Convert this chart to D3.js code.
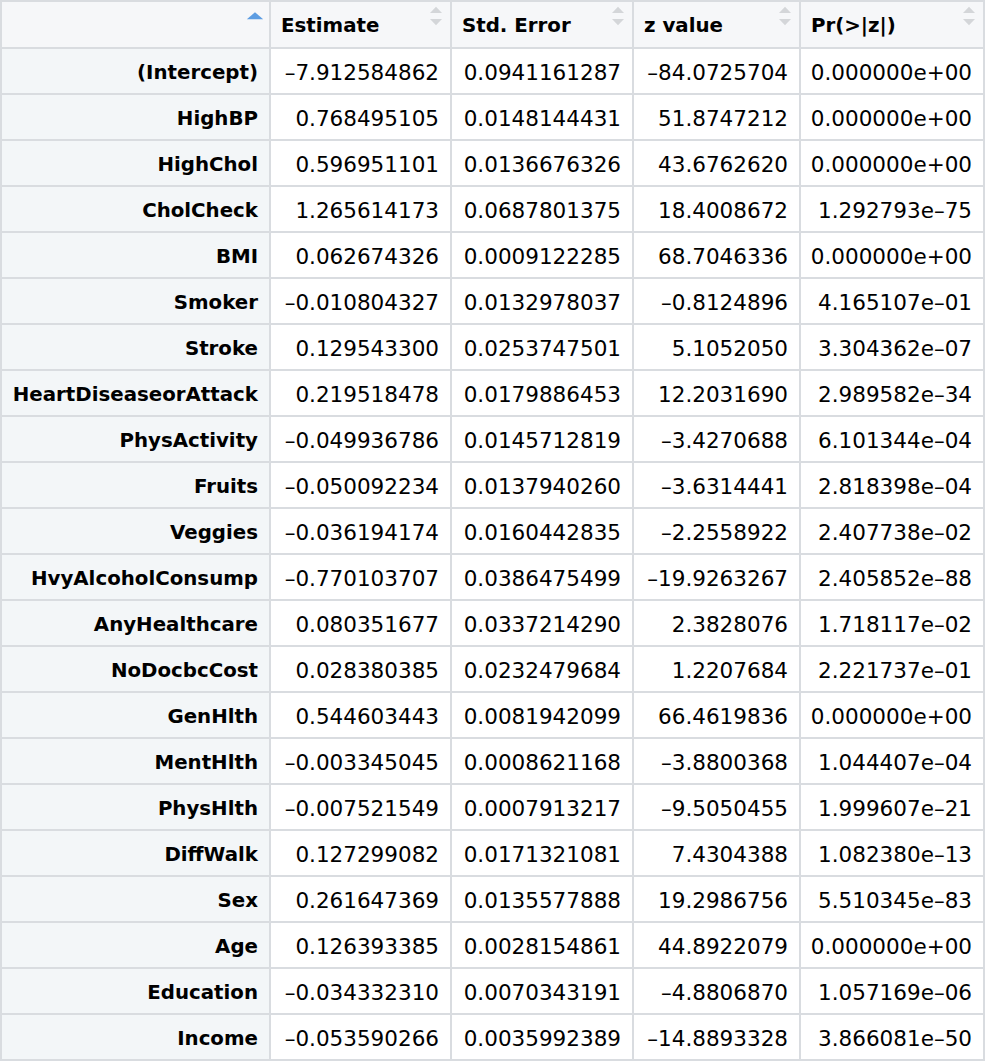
<!DOCTYPE html>
<html>
<head>
	<meta charset="utf-8">
	<title>Logistic regression coefficients</title>
	<style>
	html, body {
		margin: 0;
		background: #fff;
	}
	text {
		font-family: "DejaVu Sans", Verdana, sans-serif;
		fill: #000;
	}
	text.val {
		font-size: 21.5px;
		text-anchor: end;
	}
	text.term {
		font-size: 19.8px;
		font-weight: bold;
		text-anchor: end;
	}
	text.head {
		font-size: 19.8px;
		font-weight: bold;
	}
	.grid {
		stroke: #d9dce0;
		stroke-width: 2;
		shape-rendering: crispEdges;
	}
	</style>
	<script src="https://d3js.org/d3.v7.min.js"></script>
</head>
<body>
<div id="chart"></div>
<script>
// the rows of the table, in the order shown
var terms = ['(Intercept)', 'HighBP', 'HighChol', 'CholCheck', 'BMI', 'Smoker', 'Stroke',
	'HeartDiseaseorAttack', 'PhysActivity', 'Fruits', 'Veggies', 'HvyAlcoholConsump',
	'AnyHealthcare', 'NoDocbcCost', 'GenHlth', 'MentHlth', 'PhysHlth', 'DiffWalk', 'Sex',
	'Age', 'Education', 'Income'];

var estimate = [-7.912584862, 0.768495105, 0.596951101, 1.265614173, 0.062674326, -0.010804327,
	0.129543300, 0.219518478, -0.049936786, -0.050092234, -0.036194174, -0.770103707,
	0.080351677, 0.028380385, 0.544603443, -0.003345045, -0.007521549, 0.127299082,
	0.261647369, 0.126393385, -0.034332310, -0.053590266];

var stdError = [0.0941161287, 0.0148144431, 0.0136676326, 0.0687801375, 0.0009122285, 0.0132978037,
	0.0253747501, 0.0179886453, 0.0145712819, 0.0137940260, 0.0160442835, 0.0386475499,
	0.0337214290, 0.0232479684, 0.0081942099, 0.0008621168, 0.0007913217, 0.0171321081,
	0.0135577888, 0.0028154861, 0.0070343191, 0.0035992389];

var zValue = [-84.0725704, 51.8747212, 43.6762620, 18.4008672, 68.7046336, -0.8124896,
	5.1052050, 12.2031690, -3.4270688, -3.6314441, -2.2558922, -19.9263267,
	2.3828076, 1.2207684, 66.4619836, -3.8800368, -9.5050455, 7.4304388,
	19.2986756, 44.8922079, -4.8806870, -14.8893328];

var pValue = [0, 0, 0, 1.292793e-75, 0, 4.165107e-01, 3.304362e-07, 2.989582e-34,
	6.101344e-04, 2.818398e-04, 2.407738e-02, 2.405852e-88, 1.718117e-02, 2.221737e-01,
	0, 1.044407e-04, 1.999607e-21, 1.082380e-13, 5.510345e-83, 0, 1.057169e-06, 3.866081e-50];

var headers = ['', 'Estimate', 'Std. Error', 'z value', 'Pr(>|z|)'];

// R prints negative numbers with a dash, and exponents with two digits
function dash(s) { return s.replace(/-/g, '\u2013'); }
function fExp(v) {
	var s = v.toExponential(6);
	return dash(s.replace(/e([+-])(\d)$/, 'e$10$2'));
}
var formats = [
	function (i) { return terms[i]; },
	function (i) { return dash(estimate[i].toFixed(9)); },
	function (i) { return dash(stdError[i].toFixed(10)); },
	function (i) { return dash(zValue[i].toFixed(7)); },
	function (i) { return fExp(pValue[i]); }
];

var width = 986, height = 1062;
var colWidths = [269, 181, 182, 167, 184];
var colEdges = [1].concat(Array.from(d3.cumsum(colWidths), function (d) { return d + 1; }));
var headH = 48, bottom = 1060;

var svg = d3.select('#chart').append('svg')
	.attr('width', width)
	.attr('height', height);

// one band per term, below the header row
var y = d3.scaleBand()
	.domain(d3.range(terms.length))
	.range([headH, bottom]);

// backgrounds: header row and the row-name column are tinted
svg.append('rect')
	.attr('x', colEdges[0]).attr('y', 1)
	.attr('width', colEdges[5] - colEdges[0]).attr('height', headH - 1)
	.attr('fill', '#f6f7f9');
svg.append('rect')
	.attr('x', colEdges[0]).attr('y', headH)
	.attr('width', colWidths[0]).attr('height', bottom - headH)
	.attr('fill', '#f3f6f8');

// header labels
var pad = 11;
svg.selectAll('text.head')
	.data(headers.slice(1))
	.join('text')
	.attr('class', 'head')
	.attr('x', function (d, i) { return colEdges[i + 1] + pad; })
	.attr('y', headH / 2 + 1)
	.attr('dy', '0.35em')
	.text(function (d) { return d; });

// sort arrows: the first column is sorted ascending (blue), the rest are idle
var tri = d3.symbol().type(d3.symbolTriangle).size(40);
svg.append('path')
	.attr('d', tri)
	.attr('transform', 'translate(' + (colEdges[1] - 15) + ',17) scale(1.7,0.85)')
	.attr('fill', '#5d9de2');
colEdges.slice(1, 5).forEach(function (e, i) {
	var cx = colEdges[i + 2] - 15;
	svg.append('path')
		.attr('d', tri)
		.attr('transform', 'translate(' + cx + ',11) scale(1.25,0.75)')
		.attr('fill', '#d4d6d9');
	svg.append('path')
		.attr('d', tri)
		.attr('transform', 'translate(' + cx + ',21) scale(1.25,-0.75)')
		.attr('fill', '#d4d6d9');
});

// table body cells
var rows = svg.selectAll('g.row')
	.data(d3.range(terms.length))
	.join('g')
	.attr('class', 'row')
	.attr('transform', function (i) { return 'translate(0,' + (y(i) + y.bandwidth() / 2 + 1) + ')'; });

formats.forEach(function (f, c) {
	rows.append('text')
		.attr('class', c === 0 ? 'term' : 'val')
		.attr('x', colEdges[c + 1] - pad - 1)
		.attr('dy', '0.35em')
		.text(function (i) { return f(i); });
});

// grid lines
var grid = svg.append('g');
grid.selectAll('line.h')
	.data([1, headH].concat(d3.range(1, terms.length).map(function (i) { return y(i); })).concat([bottom]))
	.join('line')
	.attr('class', 'grid')
	.attr('x1', colEdges[0] - 1).attr('x2', colEdges[5] + 1)
	.attr('y1', function (d) { return d; }).attr('y2', function (d) { return d; });
grid.selectAll('line.v')
	.data(colEdges)
	.join('line')
	.attr('class', 'grid')
	.attr('x1', function (d) { return d; }).attr('x2', function (d) { return d; })
	.attr('y1', 0).attr('y2', bottom + 1);
</script>
</body>
</html>
